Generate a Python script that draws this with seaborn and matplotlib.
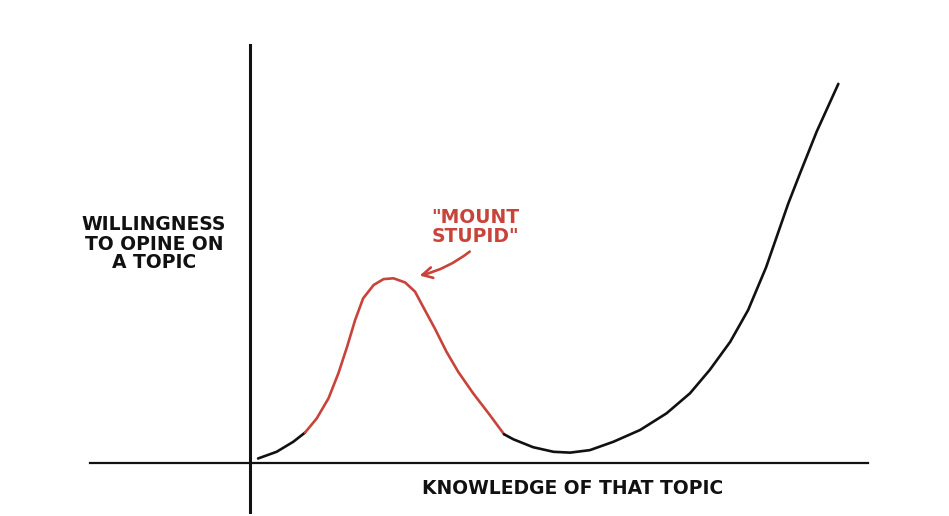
import numpy as np
import pandas as pd
import matplotlib
matplotlib.use("Agg")
import matplotlib.pyplot as plt
import seaborn as sns

# ---- data (knowledge 0-100 on x, willingness 0-100 on y) ----
knowledge = [1.3, 4.3, 7.0, 8.9, 10.8, 12.7, 14.3, 15.7, 17.0, 18.3, 20.0, 21.6,
             23.2, 25.1, 26.7, 28.0, 29.9, 31.8, 33.7, 36.1, 38.8, 41.1, 42.6,
             45.8, 49.1, 51.8, 55.0, 58.8, 63.1, 67.4, 71.2, 74.4, 77.7, 80.6,
             83.5, 87.1, 89.0, 91.7, 95.2]
willingness = [1.1, 2.7, 5.1, 7.3, 10.7, 15.5, 21.5, 27.8, 34.2, 39.4, 42.6, 44.0,
               44.2, 43.2, 41.0, 37.4, 32.2, 26.6, 21.8, 16.7, 11.5, 6.9, 5.7,
               3.8, 2.7, 2.5, 3.1, 5.1, 7.9, 11.9, 16.7, 22.3, 29.0, 36.6,
               46.8, 62.1, 69.3, 79.3, 90.7]
stupid_range = (8.9, 41.1)          # knowledge span of "Mount Stupid"
peak_pointer = (27.0, 44.7)         # where the annotation arrow points
pointer_from = (35.9, 51.0)

x_label = "KNOWLEDGE OF THAT TOPIC"
y_label = "WILLINGNESS\nTO OPINE ON\nA TOPIC"
note = "\"MOUNT\nSTUPID\""

RED = "#c8433a"
INK = "#111111"

df = pd.DataFrame({"knowledge": knowledge, "willingness": willingness})
lo, hi = stupid_range
seg_a = df[df.knowledge <= lo]
seg_b = df[(df.knowledge >= lo) & (df.knowledge <= hi)]
seg_c = df[df.knowledge >= hi]

sns.set_theme(style="white")
plt.rcParams["font.family"] = ["DejaVu Sans"]

fig = plt.figure(figsize=(9.49, 5.16), dpi=100)
fig.patch.set_facecolor("white")
ax = fig.add_axes([90 / 949, 4 / 516, 778 / 949, 467 / 516])
ax.set_facecolor("white")

for seg, col in ((seg_a, INK), (seg_b, RED), (seg_c, INK)):
    sns.lineplot(data=seg, x="knowledge", y="willingness", sort=False,
                 color=col, linewidth=1.9, ax=ax, solid_capstyle="round",
                 solid_joinstyle="round")

ax.set_xlim(-25.9, 100)
ax.set_ylim(-11.7, 100)
for s in ("top", "right"):
    ax.spines[s].set_visible(False)
ax.spines["left"].set_position(("data", 0))
ax.spines["bottom"].set_position(("data", 0))
ax.spines["left"].set_linewidth(2.2)
ax.spines["bottom"].set_linewidth(1.6)
ax.spines["left"].set_color(INK)
ax.spines["bottom"].set_color(INK)
ax.set_xticks([])
ax.set_yticks([])
ax.set_xlabel("")
ax.set_ylabel("")

ax.annotate("", xy=peak_pointer, xytext=pointer_from,
            arrowprops=dict(arrowstyle="->,head_length=0.6,head_width=0.32",
                            color=RED, lw=1.9,
                            connectionstyle="arc3,rad=-0.12"))

fs = 13.5
fig.text(573 / 949, 1 - 489 / 516, x_label, ha="center", va="center",
         fontsize=fs, color=INK, fontweight="bold")
fig.text(154 / 949, 1 - 244 / 516, y_label, ha="center", va="center",
         fontsize=fs, color=INK, linespacing=1.0, fontweight="bold")
fig.text(475 / 949, 1 - 227 / 516, note, ha="center", va="center",
         fontsize=fs, color=RED, linespacing=0.98, fontweight="bold")

fig.savefig("out.png", dpi=100, facecolor="white")
